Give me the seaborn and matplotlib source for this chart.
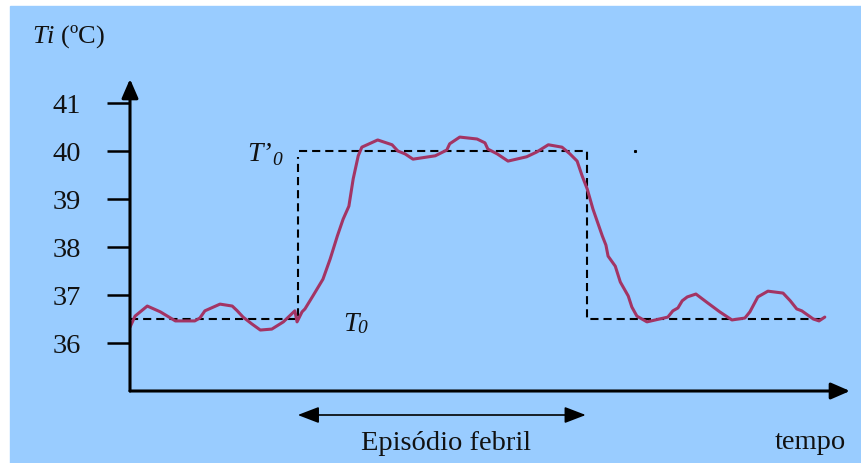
import matplotlib
matplotlib.use("Agg")
import pandas as pd
import seaborn as sns
import matplotlib.pyplot as plt
from matplotlib.patches import Rectangle

# --------------------------------------------------------------------------- #
# Data (time in arbitrary units, temperature in ºC)
# --------------------------------------------------------------------------- #
TIME = [0.0, 0.7, 2.4, 4.2, 6.3, 9.0, 9.7, 10.4, 12.5, 14.2, 14.9, 15.7, 16.9,
        18.1, 19.7, 21.3, 22.9, 23.2, 23.9, 24.3, 25.4, 26.8, 27.8, 28.8, 29.6,
        30.4, 31.0, 31.7, 32.2, 34.4, 36.4, 37.2, 38.2, 39.3, 42.4, 44.0, 44.4,
        45.8, 48.2, 49.3, 49.7, 51.0, 52.5, 55.1, 56.5, 58.1, 60.0, 61.1, 62.1,
        62.8, 63.5, 64.3, 65.6, 66.1, 66.4, 67.4, 68.1, 69.2, 69.7, 70.4, 71.8,
        74.7, 75.4, 76.1, 76.7, 77.4, 78.6, 80.1, 81.9, 83.6, 85.4, 86.1, 87.2,
        88.6, 90.7, 91.7, 92.6, 93.3, 94.9, 95.7, 96.5]
TEMP = [36.33, 36.56, 36.77, 36.65, 36.46, 36.46, 36.52, 36.67, 36.81, 36.77,
        36.67, 36.54, 36.40, 36.27, 36.29, 36.44, 36.67, 36.44, 36.65, 36.71,
        36.98, 37.33, 37.75, 38.23, 38.58, 38.85, 39.42, 39.90, 40.08, 40.23,
        40.13, 40.00, 39.94, 39.83, 39.90, 40.02, 40.15, 40.29, 40.25, 40.17,
        40.04, 39.94, 39.79, 39.88, 39.98, 40.13, 40.08, 39.94, 39.79, 39.48,
        39.21, 38.79, 38.23, 38.04, 37.81, 37.60, 37.27, 36.98, 36.75, 36.56,
        36.44, 36.54, 36.67, 36.73, 36.88, 36.96, 37.02, 36.85, 36.65, 36.48,
        36.52, 36.65, 36.96, 37.08, 37.04, 36.88, 36.71, 36.67, 36.50, 36.46,
        36.54]

# set-point (dashed step)
SET_TIME = [0.0, 23.3, 23.3, 63.5, 63.5, 96.3]
SET_TEMP = [36.5, 36.5, 39.88, 40.0, 36.5, 36.5]
SET_TOP_TIME = [23.45, 63.5]

FEVER_START, FEVER_END = 23.3, 63.3
Y_TICKS = [36, 37, 38, 39, 40, 41]

BLUE = "#99CCFF"
CURVE = "#A33464"
INK = "#111111"

# --------------------------------------------------------------------------- #
# Style
# --------------------------------------------------------------------------- #
sns.set_theme(style="white")
plt.rcParams["font.family"] = ["Liberation Serif", "DejaVu Serif"]
plt.rcParams["mathtext.fontset"] = "custom"
plt.rcParams["mathtext.rm"] = "Liberation Serif"
plt.rcParams["mathtext.it"] = "Liberation Serif:italic"

W, H = 861, 464
fig = plt.figure(figsize=(W / 100, H / 100), dpi=100, facecolor="white")
fig.patches.append(Rectangle((10 / W, 0), 1 - 10 / W, 457 / H,
                             transform=fig.transFigure, color=BLUE, zorder=-5))
ax = fig.add_axes([130 / W, 72 / H, 720 / W, 312 / H])
ax.set_facecolor("none")

curve = pd.DataFrame({"t": TIME, "T": TEMP})
setp = pd.DataFrame({"t": SET_TIME[:3], "T": SET_TEMP[:3]})
setp_rest = pd.DataFrame({"t": [SET_TOP_TIME[0]] + SET_TIME[3:],
                          "T": [40.0] + SET_TEMP[3:]})

dash = (0, (3.9, 2.4))
sns.lineplot(data=setp, x="t", y="T", ax=ax, sort=False, estimator=None,
             color="black", lw=1.5, linestyle=dash)
sns.lineplot(data=setp_rest, x="t", y="T", ax=ax, sort=False, estimator=None,
             color="black", lw=1.5, linestyle=dash)
sns.lineplot(data=curve, x="t", y="T", ax=ax, sort=False, estimator=None,
             color=CURVE, lw=2.2)
ax.plot([70.1], [40.0], marker="s", ms=1.2, color="black")

ax.set_xlim(0, 100)
ax.set_ylim(35.0, 41.5)
ax.set_yticks(Y_TICKS)
ax.set_xticks([])
ax.set_xlabel("")
ax.set_ylabel("")
for s in ax.spines.values():
    s.set_visible(False)
ax.tick_params(axis="y", direction="out", length=16.5, width=1.8,
               color="black", pad=19, labelsize=20.5, left=True)
for lab in ax.get_yticklabels():
    lab.set_color(INK)

# axis arrows
arrow_kw = dict(arrowstyle="-|>,head_length=1.15,head_width=0.5",
                mutation_scale=10, lw=2.2, color="black",
                shrinkA=0, shrinkB=0)
ax.annotate("", xy=(0, 1), xytext=(0, 0), xycoords="axes fraction",
            textcoords="axes fraction", arrowprops=arrow_kw)
ax.annotate("", xy=(1, 0), xytext=(0, 0), xycoords="axes fraction",
            textcoords="axes fraction", arrowprops=arrow_kw)

# fever episode double arrow
ax.annotate("", xy=(FEVER_END, 34.5), xytext=(FEVER_START, 34.5),
            arrowprops=dict(arrowstyle="<|-|>,head_length=1.3,head_width=0.5",
                            mutation_scale=10, lw=1.2, color="black",
                            shrinkA=0, shrinkB=0),
            annotation_clip=False)

# labels
ax.text(16.25, 39.81, "T’", fontsize=20, style="italic", ha="left",
        va="baseline", color=INK)
ax.text(19.75, 39.73, "0", fontsize=14, style="italic", ha="left",
        va="baseline", color=INK)
ax.text(29.6, 36.27, "T", fontsize=20, style="italic", ha="left",
        va="baseline", color=INK)
ax.text(31.6, 36.23, "0", fontsize=14, style="italic", ha="left",
        va="baseline", color=INK)
fig.text(32 / W, 1 - 43 / H, r"$Ti$ (ºC)", fontsize=19, ha="left",
         va="baseline", color=INK)
fig.text(446 / W, 1 - 450 / H, "Episódio febril", fontsize=20.5, ha="center",
         va="baseline", color=INK)
fig.text(846 / W, 1 - 449 / H, "tempo", fontsize=20.5, ha="right",
         va="baseline", color=INK)

fig.savefig("out.png", dpi=100, facecolor="white")
